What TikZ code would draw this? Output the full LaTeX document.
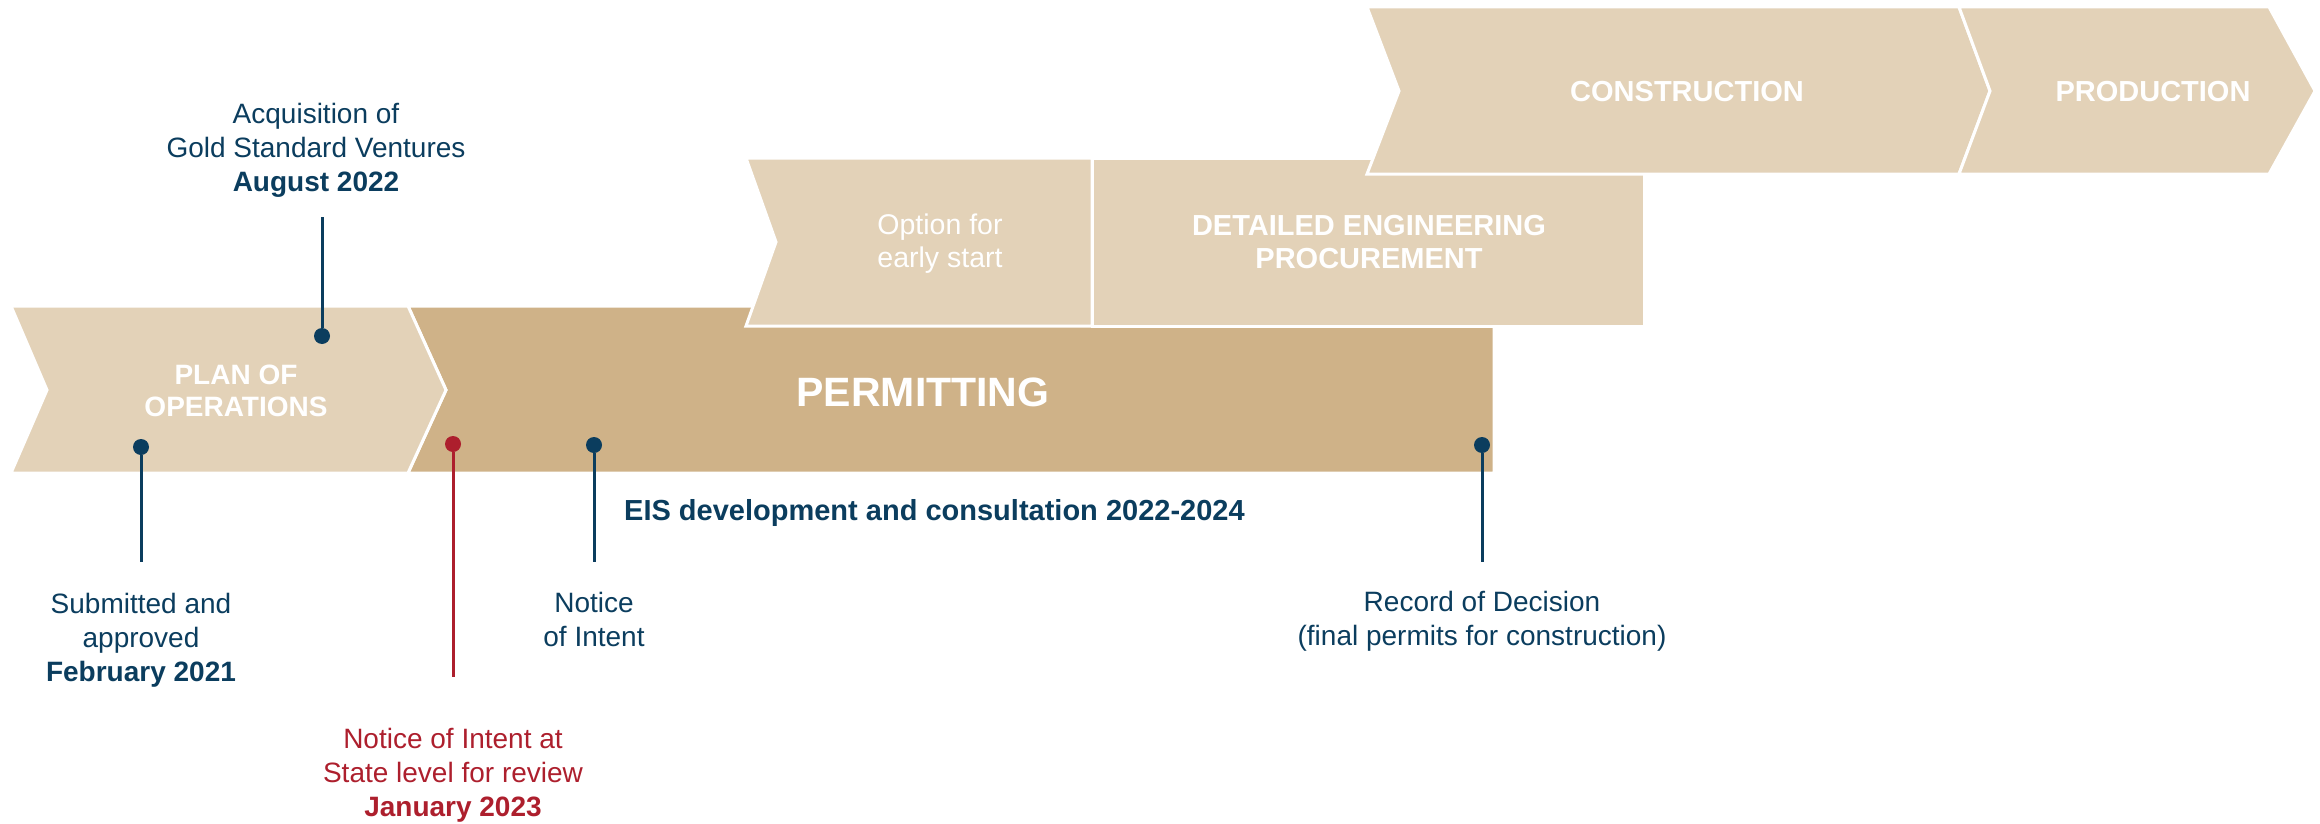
\documentclass[tikz,border=0pt]{standalone}
\usepackage{fontspec}
\setmainfont{Liberation Sans}
\definecolor{lightsand}{HTML}{E3D2B8}
\definecolor{darksand}{HTML}{CFB288}
\definecolor{navy}{HTML}{0B3D5E}
\definecolor{crimson}{HTML}{AD1F2D}
\begin{document}
\begin{tikzpicture}[x=1pt,y=-1pt,
  phase/.style={fill=lightsand,draw=white,line width=3pt},
  head/.style={text=white,font=\fontsize{28}{32}\selectfont\bfseries,align=center,inner sep=0pt},
  lbl/.style={text=navy,font=\fontsize{28}{34}\selectfont,align=center,inner sep=0pt},
  dot/.style={circle,fill=navy,inner sep=0pt,minimum size=16pt},
  stem/.style={navy,line width=3pt}]

\useasboundingbox (0,0) rectangle (2320,824);

\draw[phase,fill=darksand] (408,306) -- (1494,306) -- (1494,473) -- (408,473) -- (446,390) -- cycle;
\draw[phase] (11,306) -- (408,306) -- (446,390) -- (408,473) -- (11,473) -- (47,390) -- cycle;
\draw[phase] (746,158) -- (1092,158) -- (1092,326) -- (746,326) -- (776,242) -- cycle;
\draw[phase] (1092,158) rectangle (1644,326);
\draw[phase] (1367,7) -- (1959,7) -- (1990,91) -- (1959,174) -- (1367,174) -- (1399,91) -- cycle;
\draw[phase] (1959,7) -- (2269,7) -- (2315,91) -- (2269,174) -- (1959,174) -- (1990,91) -- cycle;

\node[head] (plan) at (236,391) {PLAN OF\\OPERATIONS};
\node[head,font=\fontsize{41}{41}\selectfont\bfseries,anchor=base] (permit) at (923,406) {PERMITTING};
\node[head,font=\fontsize{28.5}{33}\selectfont] (option) at (940,244) {Option for\\early start};
\node[head,font=\fontsize{29}{33}\selectfont\bfseries] (detail) at (1369,242) {DETAILED ENGINEERING\\PROCUREMENT};
\node[head,font=\fontsize{29}{32}\selectfont\bfseries,anchor=base] (constr) at (1687,102) {CONSTRUCTION};
\node[head,font=\fontsize{29}{32}\selectfont\bfseries,anchor=base] (prod) at (2153,102) {PRODUCTION};

\node[lbl] (gsv) at (316,150) {Acquisition of\\Gold Standard Ventures\\\textbf{August 2022}};
\node[dot] (gsv-dot) at (322,336) {};
\coordinate (gsv-end) at (322,217);

\node[lbl] (poo) at (141,640) {Submitted and\\approved\\\textbf{February 2021}};
\node[dot] (poo-dot) at (141,447) {};
\coordinate (poo-end) at (141,562);

\node[lbl,text=crimson] (state) at (453,775) {Notice of Intent at\\State level for review\\\textbf{January 2023}};
\node[dot,fill=crimson] (state-dot) at (453,444) {};
\coordinate (state-end) at (453,677);

\node[lbl] (noi) at (594,619) {Notice\\of Intent};
\node[dot] (noi-dot) at (594,445) {};
\coordinate (noi-end) at (594,562);

\node[lbl] (rod) at (1482,621) {Record of Decision\\(final permits for construction)};
\node[dot] (rod-dot) at (1482,445) {};
\coordinate (rod-end) at (1482,562);

\node[lbl,font=\fontsize{29}{34}\selectfont\bfseries,anchor=base west] (eis) at (624,520) {EIS development and consultation 2022-2024};

\begin{scope}[stem]
\draw (gsv-dot) -- (gsv-end);
\draw (poo-dot) -- (poo-end);
\draw (noi-dot) -- (noi-end);
\draw (rod-dot) -- (rod-end);
\draw[crimson] (state-dot) -- (state-end);
\end{scope}

\end{tikzpicture}
\end{document}
